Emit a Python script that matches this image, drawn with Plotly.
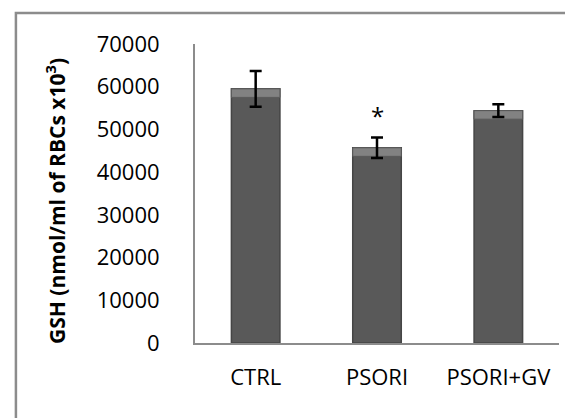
import plotly.graph_objects as go

categories = ["CTRL", "PSORI", "PSORI+GV"]
gsh_values = [59500, 45700, 54400]
gsh_errors = [4200, 2400, 1500]
significance = ["", "*", ""]
y_ticks = [0, 10000, 20000, 30000, 40000, 50000, 60000, 70000]
y_tick_labels = [str(t) for t in y_ticks]

bevel = 2000
bar_width = 0.4

fig = go.Figure()
fig.add_trace(go.Bar(
    x=categories, y=gsh_values, width=bar_width,
    marker=dict(color="#595959", line=dict(color="#454545", width=1.5)),
    hoverinfo="y",
))
fig.add_trace(go.Bar(
    x=categories, y=[bevel] * len(gsh_values),
    base=[v - bevel for v in gsh_values], width=bar_width,
    marker=dict(color="#828282", line=dict(color="#5a5a5a", width=1)),
    hoverinfo="skip",
))
fig.add_trace(go.Scatter(
    x=categories, y=gsh_values, mode="markers",
    marker=dict(size=1, color="rgba(0,0,0,0)"),
    error_y=dict(type="data", array=gsh_errors, visible=True,
                 color="black", thickness=2.5, width=6),
    hoverinfo="skip",
))

for c, v, e, s in zip(categories, gsh_values, gsh_errors, significance):
    if s:
        fig.add_annotation(x=c, y=v + e, text=s, showarrow=False,
                           yanchor="bottom", yshift=4,
                           font=dict(family="Open Sans", size=24, color="black"))

fig.add_annotation(xref="paper", yref="paper", x=-0.382, y=0.475,
                   xanchor="center", yanchor="middle",
                   text="GSH (nmol/ml of RBCs x10<sup>3</sup>)",
                   textangle=-90, showarrow=False,
                   font=dict(family="Open Sans", size=21, color="black", weight="bold"))

fig.add_shape(type="rect", xref="paper", yref="paper",
              x0=-0.492, x1=1.2, y0=-0.4, y1=1.104,
              line=dict(color="#8c8c8c", width=2.5), fillcolor="rgba(0,0,0,0)")

fig.update_layout(
    width=573, height=418,
    margin=dict(l=187, r=22, t=36, b=83),
    barmode="overlay",
    showlegend=False,
    plot_bgcolor="white", paper_bgcolor="white",
    font=dict(family="Open Sans", size=22, color="black"),
    xaxis=dict(showline=True, linecolor="#8c8c8c", linewidth=2,
               showgrid=False, ticks="", ticklabelstandoff=14,
               tickfont=dict(size=22)),
    yaxis=dict(range=[0, 70000], tickvals=y_ticks, ticktext=y_tick_labels,
               showline=True, linecolor="#8c8c8c", linewidth=2,
               showgrid=False, zeroline=False, ticks="",
               ticklabelstandoff=29, tickfont=dict(size=22)),
)

fig.write_html("out.html")
